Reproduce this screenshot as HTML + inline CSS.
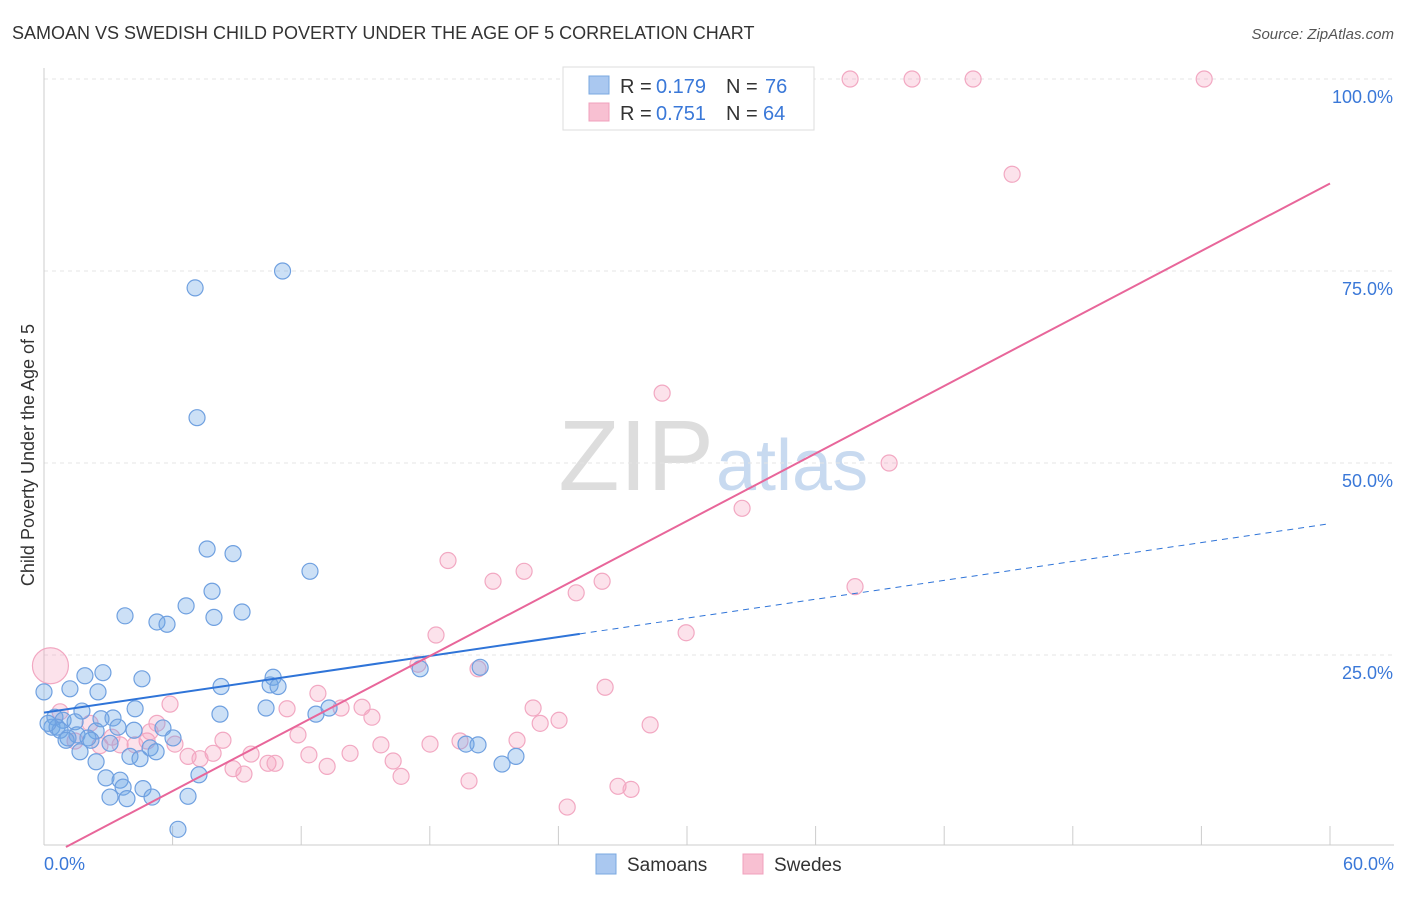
<!DOCTYPE html>
<html><head><meta charset="utf-8"><style>
body{margin:0;background:#fff;font-family:"Liberation Sans",sans-serif;}
svg text{font-family:"Liberation Sans",sans-serif;}
</style></head><body>
<svg id="chart" width="1406" height="892">
<text x="12" y="39" font-size="18" fill="#333">SAMOAN VS SWEDISH CHILD POVERTY UNDER THE AGE OF 5 CORRELATION CHART</text>
<text x="1394" y="39" font-size="15" fill="#555" font-style="italic" text-anchor="end">Source: ZipAtlas.com</text>
<text x="714" y="490" font-size="100" fill="#ddd" text-anchor="end" font-family="Liberation Serif">ZIP</text>
<text x="716" y="490" font-size="72" fill="#c8daf0">atlas</text>
<g id="grid"></g><g id="axes"></g><g id="pts"></g><g id="lines"></g>
<text transform="translate(34,455) rotate(-90)" font-size="18" fill="#333" text-anchor="middle">Child Poverty Under the Age of 5</text>
<g>
<rect x="563" y="67" width="251" height="63" fill="#fff" stroke="#ddd"/>
<rect x="589" y="76" width="20" height="18" fill="#aac8f0" stroke="#7aa8e0"/>
<text y="93" font-size="20" fill="#333"><tspan x="620">R =</tspan><tspan x="656" fill="#3a78d8">0.179</tspan><tspan x="726">N =</tspan><tspan x="765" fill="#3a78d8">76</tspan></text>
<rect x="589" y="103" width="20" height="18" fill="#f8c0d2" stroke="#f0a0bc"/>
<text y="120" font-size="20" fill="#333"><tspan x="620">R =</tspan><tspan x="656" fill="#3a78d8">0.751</tspan><tspan x="726">N =</tspan><tspan x="763" fill="#3a78d8">64</tspan></text>
</g>
<g>
<rect x="596" y="854" width="20" height="20" fill="#aac8f0" stroke="#7aa8e0"/>
<text x="627" y="871" font-size="19" fill="#333">Samoans</text>
<rect x="743" y="854" width="20" height="20" fill="#f8c0d2" stroke="#f0a0bc"/>
<text x="774" y="871" font-size="19" fill="#333">Swedes</text>
</g>
</svg>
<script>
const xTickVals=[0,6,12,18,24,30,36,42,48,54,60];
const yTickVals=[25,50,75,100];
const blueX=[11.13,7.05,7.14,7.61,8.82,12.41,7.84,6.63,9.24,3.78,7.93,5.27,5.74,17.55,20.35,2.75,1.91,4.57,10.69,10.55,10.92,8.26,1.21,2.52,0,13.3,10.36,12.69,8.21,4.25,1.77,0.51,0.89,1.45,2.66,3.22,0.37,0.61,3.45,4.2,5.55,2.43,1.54,1.12,2.19,3.08,2.05,6.02,4.95,5.23,1.68,4.01,4.48,19.69,20.25,22.02,21.37,2.43,2.89,3.55,3.69,7.23,4.62,3.08,3.87,5.04,6.72,6.25,0.75,0.19,1.03];
const blueY=[75,72.8,55.9,38.8,38.2,35.9,33.3,31.4,30.6,30.1,29.9,29.3,29,23.2,23.4,22.7,22.3,21.9,22.1,21.1,20.9,20.9,20.6,20.2,20.2,18.1,18.1,17.3,17.3,18,17.7,16.9,16.5,16.3,16.7,16.8,15.6,15.6,15.6,15.2,15.5,15.1,14.6,14.2,13.9,13.5,14.2,14.2,12.9,12.4,12.4,11.8,11.5,13.4,13.3,11.8,10.8,11.1,9,8.7,7.8,9.4,7.6,6.5,6.3,6.5,6.6,2.3,15.2,16.1,13.9];
const pinkX=[37.61,40.5,43.35,54.13,45.17,28.84,39.43,32.57,18.85,22.4,20.95,26.04,24.83,37.84,18.29,29.96,26.18,17.45,20.25,12.78,5.88,14.84,22.82,11.34,15.3,13.86,23.15,24.03,28.28,5.27,11.85,22.07,19.41,18.01,15.72,14.28,7.89,6.72,6.11,9.66,12.36,7.28,4.81,8.82,9.33,10.45,10.78,16.29,13.21,16.66,19.83,26.78,27.39,24.41,0.3,0.75,1.45,2.61,3.55,4.95,2.15,4.25,8.35,3.17];
const pinkY=[100,100,100,100,87.6,59.1,50,44.1,37.3,35.9,34.6,34.6,33.1,33.9,27.6,27.9,20.8,23.8,23.2,20,18.6,18.2,18.1,18,16.9,18.1,16.1,16.5,15.9,16.1,14.6,13.9,13.8,13.4,13.3,12.2,12.2,11.8,13.4,12.1,12,11.5,13.8,10.2,9.5,10.9,10.9,11.2,10.5,9.2,8.6,7.9,7.5,5.2,23.6,17.6,13.8,13.2,13.3,15,16.1,13.3,13.9,14.3];
const pinkR=[8,8,8,8,8,8,8,8,8,8,8,8,8,8,8,8,8,8,8,8,8,8,8,8,8,8,8,8,8,8,8,8,8,8,8,8,8,8,8,8,8,8,8,8,8,8,8,8,8,8,8,8,8,8,18,8,8,8,8,8,8,8,8,8];
const blueFit=[17.5,0.41], blueSolidEnd=25, pinkFit=[-1.5,1.465];
const NS="http://www.w3.org/2000/svg";
const X=v=>44+v*(1286/60), Y=v=>847-v*7.68;
function mk(t,a,p){const e=document.createElementNS(NS,t);for(const k in a)e.setAttribute(k,a[k]);p.appendChild(e);return e;}
const grid=document.getElementById('grid'),axes=document.getElementById('axes'),pts=document.getElementById('pts'),lines=document.getElementById('lines');
yTickVals.forEach(v=>{const g=mk('line',{x1:44,x2:1394,y1:Y(v),y2:Y(v),stroke:'#e4e4e4','stroke-dasharray':'4,4'},grid);


const t=mk('text',{x:1393,y:Y(v)+24,'font-size':18,fill:'#3a78d8','text-anchor':'end'},axes);t.textContent=v.toFixed(1)+'%';

});
const ax=mk('line',{x1:44,x2:1394,y1:845,y2:845,stroke:'#ccc'},axes);


const ay=mk('line',{x1:44,x2:44,y1:68,y2:845,stroke:'#ccc'},axes);


xTickVals.forEach(v=>{const l=mk('line',{x1:X(v),x2:X(v),y1:826,y2:845,stroke:'#ccc'},axes);

});
[[0,'0.0%','start',44],[60,'60.0%','end',1394]].forEach(a=>{const t=mk('text',{x:a[3],y:870,'font-size':18,fill:'#3a78d8','text-anchor':a[2]},axes);t.textContent=a[1];

});
pinkX.forEach((x,i)=>{const c=mk('circle',{cx:X(x),cy:Y(pinkY[i]),r:pinkR[i],fill:'rgba(244,160,190,0.3)',stroke:'#f2a8c2','stroke-width':1.2},pts);

});
blueX.forEach((x,i)=>{const c=mk('circle',{cx:X(x),cy:Y(blueY[i]),r:8,fill:'rgba(110,165,230,0.35)',stroke:'#6fa0e0','stroke-width':1.2},pts);

});
const bf=x=>blueFit[0]+blueFit[1]*x, pf=x=>pinkFit[0]+pinkFit[1]*x;
const l1=mk('line',{x1:X(0),y1:Y(bf(0)),x2:X(blueSolidEnd),y2:Y(bf(blueSolidEnd)),stroke:'#2f74d8','stroke-width':2},lines);


const l2=mk('line',{x1:X(blueSolidEnd),y1:Y(bf(blueSolidEnd)),x2:X(60),y2:Y(bf(60)),stroke:'#2f74d8','stroke-width':1,'stroke-dasharray':'6,5'},lines);


const x0=-pinkFit[0]/pinkFit[1];
const l3=mk('line',{x1:X(x0),y1:Y(0),x2:X(60),y2:Y(pf(60)),stroke:'#e8669a','stroke-width':2},lines);


</script>
</body></html>
